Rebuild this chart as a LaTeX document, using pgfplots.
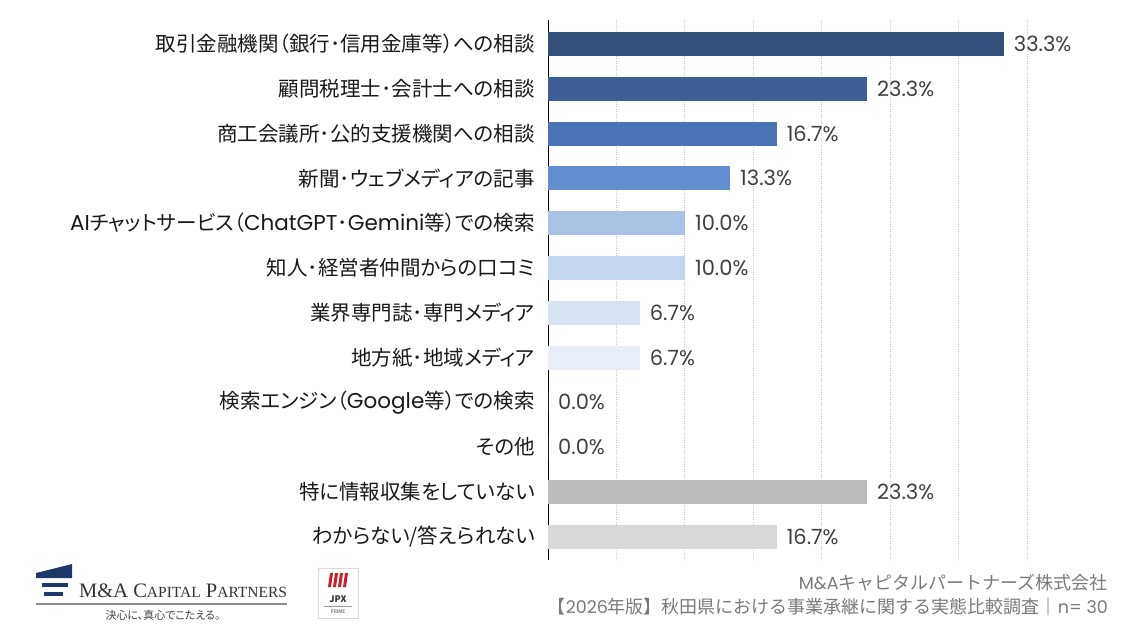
\documentclass[border=0pt]{standalone}
\usepackage{pgfplots}
\pgfplotsset{compat=1.18}
\usepackage{fontspec}
\setmainfont[RawFeature={+palt}]{Noto Sans CJK JP}
\newfontfamily\plainjp{Noto Sans CJK JP}
\newfontfamily\numfont{Poppins}
\newfontfamily\logofont{Liberation Serif}

\definecolor{cA}{HTML}{354F7C}
\definecolor{cB}{HTML}{3E5F95}
\definecolor{cC}{HTML}{4A74B6}
\definecolor{cD}{HTML}{618ECF}
\definecolor{cE}{HTML}{A9C2E6}
\definecolor{cF}{HTML}{C4D6EE}
\definecolor{cG}{HTML}{D7E3F3}
\definecolor{cH}{HTML}{E7EEF8}
\definecolor{cI}{HTML}{BBBBBB}
\definecolor{cJ}{HTML}{D9D9D9}
\definecolor{valtext}{HTML}{404040}
\definecolor{foot}{HTML}{7A7A7A}
\definecolor{navy}{HTML}{1F3868}
\definecolor{jpxred}{HTML}{C8202A}

\newcommand{\lat}[1]{{\numfont\fontsize{21.5}{21.5}\selectfont #1}}

\begin{document}
\begin{tikzpicture}[x=1pt,y=1pt]
\useasboundingbox (0,0) rectangle (1140,641);

\begin{axis}[
  at={(548pt,81pt)}, anchor=south west,
  width=479pt, height=540pt, scale only axis,
  xbar, bar width=24pt, bar shift=0pt,
  xmin=0, xmax=35,
  ymin=-0.535, ymax=11.52, y dir=reverse,
  axis lines*=left,
  x axis line style={draw=none},
  y axis line style={black, line width=1pt},
  xtick={5,10,...,35}, xticklabels={},
  xmajorgrids, grid style={dotted, black!22, line width=0.9pt},
  major tick length=0pt,
  ytick={0,...,11},
  yticklabels={
    {取引金融機関（銀行･信用金庫等）への相談},
    {顧問税理士･会計士への相談},
    {商工会議所･公的支援機関への相談},
    {新聞･ウェブメディアの記事},
    {\lat{AI}チャットサービス（\lat{ChatGPT}･\lat{Gemini}等）での検索},
    {知人･経営者仲間からの口コミ},
    {業界専門誌･専門メディア},
    {地方紙･地域メディア},
    {検索エンジン（\lat{Google}等）での検索},
    {その他},
    {特に情報収集をしていない},
    {わからない/答えられない}},
  yticklabel style={font=\fontsize{20.5}{20.5}\selectfont, text=black!90, inner sep=0pt, xshift=-13pt},
  point meta=x,
  /pgf/number format/assume math mode=true,
  nodes near coords={\pgfmathprintnumber[fixed,fixed zerofill,precision=1]{\pgfplotspointmeta}\%},
  nodes near coords style={anchor=west, inner sep=0pt, xshift=10pt, text=valtext, font=\numfont\fontsize{21}{21}\selectfont},
]
\addplot[fill=cA, draw=none] coordinates {(33.3,0)};
\addplot[fill=cB, draw=none] coordinates {(23.3,1)};
\addplot[fill=cC, draw=none] coordinates {(16.7,2)};
\addplot[fill=cD, draw=none] coordinates {(13.3,3)};
\addplot[fill=cE, draw=none] coordinates {(10.0,4)};
\addplot[fill=cF, draw=none] coordinates {(10.0,5)};
\addplot[fill=cG, draw=none] coordinates {(6.7,6)};
\addplot[fill=cH, draw=none] coordinates {(6.7,7)};
\addplot[fill=cE, draw=none] coordinates {(0.0,8)};
\addplot[fill=cE, draw=none] coordinates {(0.0,9)};
\addplot[fill=cI, draw=none] coordinates {(23.3,10)};
\addplot[fill=cJ, draw=none] coordinates {(16.7,11)};
\end{axis}

% footer: publisher and survey
\node[anchor=base east, text=foot, inner sep=0pt, font=\plainjp\fontsize{18}{18}\selectfont] at (1108,52)
  {{\numfont\fontsize{17.5}{17.5}\selectfont M\&A}キャピタルパートナーズ株式会社};
\node[anchor=base east, text=foot, inner sep=0pt, font=\plainjp\fontsize{18}{18}\selectfont] at (1108,28)
  {【{\numfont\fontsize{17.5}{17.5}\selectfont 2026}年版】秋田県における事業承継に関する実態比較調査｜{\numfont\fontsize{17.5}{17.5}\selectfont n= 30}};

% company logo
\fill[navy] (36,63) -- (72,63) -- (72,77) -- (36,68) -- cycle;
\fill[navy] (42,54) rectangle (68,58);
\fill[navy] (44,45) rectangle (63,49);
\node[anchor=base west, inner sep=0pt, text=black!80, font=\logofont\fontsize{20.5}{20.5}\selectfont] at (79,44)
  {M\&A C{\fontsize{15.5}{15.5}\selectfont APITAL} P{\fontsize{15.5}{15.5}\selectfont ARTNERS}};
\draw[black!45, line width=1.2pt] (36,37) -- (287,37);
\node[text=black!75, inner sep=0pt, font=\fontsize{11}{11}\selectfont] at (163,26) {決心に、真心でこたえる。};

% exchange listing badge
\draw[black!15, line width=0.6pt] (318,23) rectangle (358,73);
\foreach \i in {0,1,2,3} {
  \fill[jpxred] (328+5*\i,54) -- (331+5*\i,54) -- (333+5*\i,68) -- (330+5*\i,68) -- cycle;
}
\node[inner sep=0pt, font=\bfseries\fontsize{9}{9}\selectfont, text=black!80] at (338,42) {JPX};
\draw[black!40, line width=0.5pt] (324,35) -- (352,35);
\node[inner sep=0pt, font=\fontsize{5}{5}\selectfont, text=black!70] at (338,29) {PRIME};
\end{tikzpicture}
\end{document}
